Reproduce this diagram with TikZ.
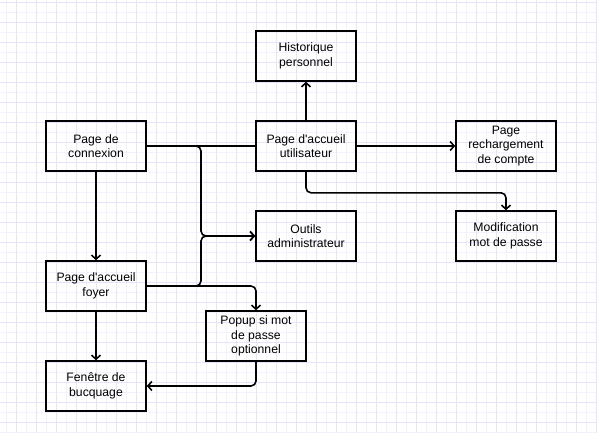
\documentclass[tikz,border=0pt]{standalone}
\usepackage{fontspec}
\setmainfont{Liberation Sans}
\usetikzlibrary{arrows.meta}
\definecolor{gridminor}{RGB}{242,242,252}
\definecolor{gridmajor}{RGB}{228,228,250}
\newcommand{\q}{\textquotesingle}
\tikzset{
	page/.style = {draw, line width = 1.6pt, minimum width = 100pt, minimum height = 50pt, align = center, font = \fontsize{12.2}{14.4}\selectfont},
	link/.style = {line width = 1.6pt, rounded corners = 5pt},
	go/.style = {link, -{Straight Barb[length = 4pt, width = 9pt]}}
}
\begin{document}
\begin{tikzpicture}[x = 1pt, y = -1pt]
		\useasboundingbox (0,0) rectangle (597,433);
		\foreach \i in {6,16,...,596} \draw[gridminor, line width = 0.8pt] (\i,0) -- (\i,433);
		\foreach \j in {2,12,...,432} \draw[gridminor, line width = 0.8pt] (0,\j) -- (597,\j);
		\foreach \i in {16,36,...,596} \draw[gridmajor, line width = 0.8pt] (\i,0) -- (\i,433);
		\foreach \j in {2,22,...,432} \draw[gridmajor, line width = 0.8pt] (0,\j) -- (597,\j);
		\node[page] (connexion) at (96,146) {Page de\\connexion};
		\node[page] (utilisateur) at (306,146) {Page d\q accueil\\utilisateur};
		\node[page] (historique) at (306,56) {Historique\\personnel};
		\node[page] (rechargement) at (506,146) {Page\\rechargement\\de compte};
		\node[page] (modification) at (506,236) {Modification\\mot de passe};
		\node[page] (outils) at (306,236) {Outils\\administrateur};
		\node[page] (foyer) at (96,286) {Page d\q accueil\\foyer};
		\node[page] (popup) at (256,336) {Popup si mot\\de passe\\optionnel};
		\node[page] (fenetre) at (96,386) {Fenêtre de\\bucquage};
		\coordinate (split) at (201,146);
		\draw[link] (connexion) -- (utilisateur);
		\draw[go] (connexion.east) -- (split) |- (outils.west);
		\draw[go] (foyer.east) -- (foyer.east -| split) |- (outils.west);
		\draw[go] (connexion) -- (foyer);
		\draw[go] (foyer) -- (fenetre);
		\draw[go] (foyer.east) -| (popup.north);
		\draw[go] (popup.south) |- (fenetre.east);
		\draw[go] (utilisateur) -- (historique);
		\draw[go] (utilisateur) -- (rechargement);
		\draw[go] (utilisateur.south) -- ++(0,21) -| (modification.north);
	\end{tikzpicture}
\end{document}
